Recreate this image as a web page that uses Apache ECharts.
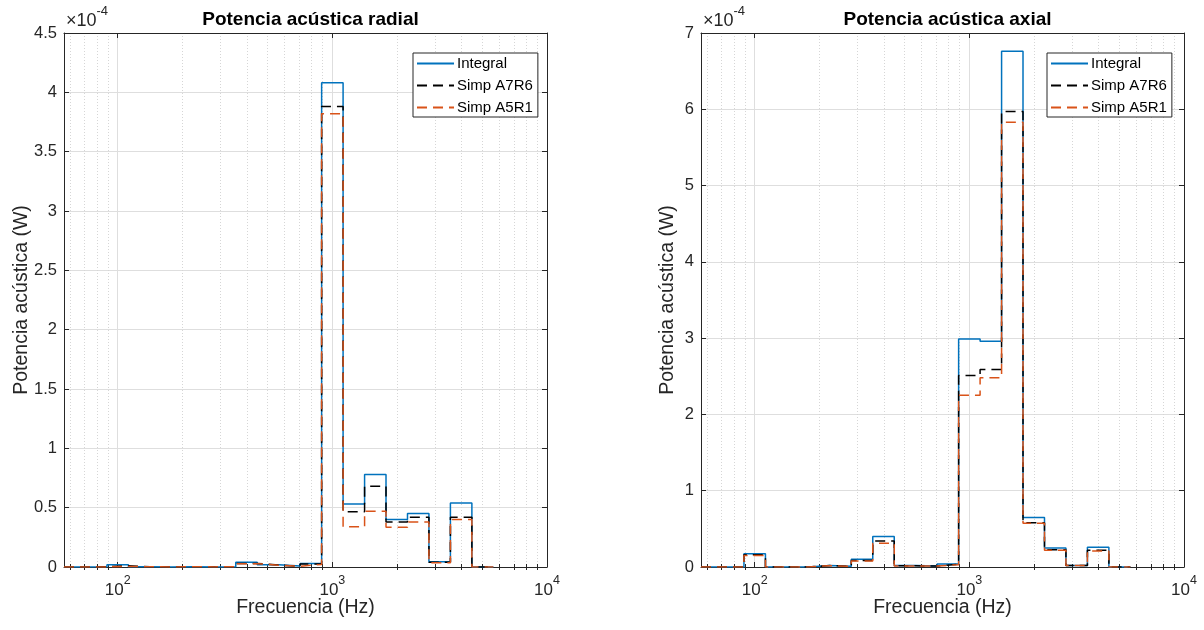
<!DOCTYPE html>
<html>
<head>
<meta charset="utf-8">
<script src="https://cdn.jsdelivr.net/npm/echarts@6/dist/echarts.min.js"></script>
<style>html,body{margin:0;padding:0;background:#fff}#c{width:1204px;height:630px}</style>
</head>
<body>
<div id="c"></div>
<script>
// Third-octave band edges (Hz) and nominal centres
const bandEdges = [56.2, 70.8, 89.1, 112.2, 141.3, 177.8, 223.9, 281.8, 354.8, 446.7, 562.3, 707.9, 891.3, 1122, 1413, 1778, 2239, 2818, 3548, 4467, 5623];
const bandCenters = [63, 80, 100, 125, 160, 200, 250, 315, 400, 500, 630, 800, 1000, 1250, 1600, 2000, 2500, 3150, 4000, 5000];

// Values in units of 1e-4 W
const radialIntegral = [0, 0.002, 0.02, 0.003, 0, 0.002, 0.001, 0.002, 0.04, 0.02, 0.008, 0.03, 4.08, 0.53, 0.78, 0.40, 0.45, 0.045, 0.54, 0];
const radialA7R6     = [0, 0.002, 0.01, 0.003, 0, 0.002, 0.001, 0.002, 0.03, 0.016, 0.007, 0.025, 3.88, 0.465, 0.68, 0.38, 0.42, 0.04, 0.42, 0];
const radialA5R1     = [0, 0.001, 0.005, 0.002, 0, 0.002, 0.001, 0.002, 0.028, 0.014, 0.006, 0.022, 3.82, 0.34, 0.47, 0.335, 0.38, 0.035, 0.40, 0];

const axialIntegral = [0, 0, 0.175, 0, 0, 0.02, 0.01, 0.10, 0.40, 0.02, 0.013, 0.04, 2.99, 2.96, 6.76, 0.65, 0.25, 0.02, 0.26, 0];
const axialA7R6     = [0, 0, 0.16, 0, 0, 0.02, 0.008, 0.085, 0.34, 0.015, 0.012, 0.035, 2.51, 2.59, 5.97, 0.58, 0.225, 0.02, 0.22, 0];
const axialA5R1     = [0, 0, 0.15, 0, 0, 0.018, 0.008, 0.08, 0.31, 0.013, 0.012, 0.03, 2.25, 2.48, 5.83, 0.575, 0.22, 0.02, 0.21, 0];

const seriesNames = ['Integral', 'Simp A7R6', 'Simp A5R1'];
const titles = ['Potencia acústica radial', 'Potencia acústica axial'];
const yMax = [4.5, 7];
const yStep = [0.5, 1];
const xMin = 56.2, xMax = 10000;
const minorTickValues = [60, 70, 80, 90, 200, 300, 400, 500, 600, 700, 800, 900, 2000, 3000, 4000, 5000, 6000, 7000, 8000, 9000];

const FONT = "'Liberation Sans', Arial, Helvetica, sans-serif";
const TXT = '#262626';
const colors = ['#0072BD', '#000000', '#D95319'];
const dashes = ['solid', [10, 6], [10, 6]];

function stairs(vals) {
  const pts = vals.map((v, i) => [bandEdges[i], v]);
  pts.push([bandEdges[vals.length], vals[vals.length - 1]]);
  return pts;
}

const grids = [
  {left: 64, right: 657, top: 33, bottom: 63},
  {left: 701, right: 20, top: 33, bottom: 63}
];

const xAxes = [], yAxes = [], series = [], titleList = [], legends = [], graphics = [];
const data = [[radialIntegral, radialA7R6, radialA5R1], [axialIntegral, axialA7R6, axialA5R1]];
const yNameGap = [32, 23];
const legendLeft = [413, 1047];

grids.forEach((g, gi) => {
  const base = {type: 'log', logBase: 10, gridIndex: gi, min: xMin, max: xMax};
  // main bottom axis
  xAxes.push(Object.assign({}, base, {
    position: 'bottom',
    name: 'Frecuencia (Hz)', nameLocation: 'middle', nameGap: 31, nameMoveOverlap: false,
    nameTextStyle: {fontFamily: FONT, fontSize: 19.5, color: TXT, verticalAlign: 'top'},
    axisLine: {show: true, onZero: false, lineStyle: {color: TXT, width: 1}},
    axisTick: {show: true, inside: true, length: 5, lineStyle: {color: TXT}},
    axisLabel: {
      margin: 7, color: TXT, fontFamily: FONT, fontSize: 17,
      formatter: v => {
        const e = Math.log10(v);
        if (Math.abs(e - Math.round(e)) > 1e-6) return '';
        return '{b|10}{s|' + Math.round(e) + '}';
      },
      rich: {b: {fontFamily: FONT, fontSize: 17, color: TXT, verticalAlign: 'bottom', padding: [8, 0, 0, 0]},
             s: {fontFamily: FONT, fontSize: 12.5, color: TXT, verticalAlign: 'top', padding: [0, 0, 8, 0]}}
    },
    splitLine: {show: true, lineStyle: {color: '#dedede', width: 1}}
  }));
  // minor bottom axis
  xAxes.push(Object.assign({}, base, {
    position: 'bottom',
    axisLine: {show: false},
    axisLabel: {show: false},
    axisTick: {show: true, inside: true, length: 3, customValues: minorTickValues, lineStyle: {color: TXT}},
    splitLine: {show: true, lineStyle: {color: '#d6d6d6', width: 1, type: [1, 2]}}
  }));
  // top major
  xAxes.push(Object.assign({}, base, {
    position: 'top',
    axisLine: {show: true, onZero: false, lineStyle: {color: TXT, width: 1}},
    axisLabel: {show: false},
    axisTick: {show: true, inside: true, length: 5, lineStyle: {color: TXT}},
    splitLine: {show: false}
  }));
  // top minor
  xAxes.push(Object.assign({}, base, {
    position: 'top',
    axisLine: {show: false},
    axisLabel: {show: false},
    axisTick: {show: true, inside: true, length: 3, customValues: minorTickValues, lineStyle: {color: TXT}},
    splitLine: {show: false}
  }));

  yAxes.push({
    type: 'value', gridIndex: gi, position: 'left', min: 0, max: yMax[gi], interval: yStep[gi],
    name: 'Potencia acústica (W)', nameLocation: 'middle', nameGap: yNameGap[gi], nameMoveOverlap: false,
    nameTextStyle: {fontFamily: FONT, fontSize: 19.5, color: TXT},
    axisLine: {show: true, lineStyle: {color: TXT, width: 1}},
    axisTick: {show: true, inside: true, length: 5, lineStyle: {color: TXT}},
    axisLabel: {margin: 7, color: TXT, fontFamily: FONT, fontSize: 16.5},
    splitLine: {show: true, lineStyle: {color: '#dedede', width: 1}}
  });
  yAxes.push({
    type: 'value', gridIndex: gi, position: 'right', min: 0, max: yMax[gi], interval: yStep[gi],
    axisLine: {show: true, lineStyle: {color: TXT, width: 1}},
    axisTick: {show: true, inside: true, length: 5, lineStyle: {color: TXT}},
    axisLabel: {show: false},
    splitLine: {show: false}
  });

  data[gi].forEach((vals, si) => {
    series.push({
      name: seriesNames[si], type: 'line', step: 'end',
      xAxisIndex: gi * 4, yAxisIndex: gi * 2,
      data: stairs(vals), symbol: 'none', showSymbol: false,
      lineStyle: {color: colors[si], width: 1.5, type: dashes[si]},
      itemStyle: {color: colors[si]},
      emphasis: {disabled: true}, animation: false, z: 2 + si
    });
  });

  const cx = g.left + (1204 - g.left - g.right) / 2;
  titleList.push({
    text: titles[gi], left: cx, top: 5, textAlign: 'center',
    textStyle: {fontFamily: FONT, fontSize: 19, fontWeight: 'bold', color: '#000'}
  });

  graphics.push({
    type: 'text', left: g.left + 2, top: 5,
    style: {
      text: '{a|×10}{s|-4}', fill: TXT,
      rich: {a: {fontFamily: FONT, fontSize: 18, fill: TXT, verticalAlign: 'bottom', padding: [7, 0, 0, 0]},
             s: {fontFamily: FONT, fontSize: 13, fill: TXT, verticalAlign: 'top', padding: [0, 0, 7, 0]}}
    }
  });

  legends.push({
    orient: 'vertical', left: legendLeft[gi], top: 53, data: seriesNames,
    itemWidth: 37, itemHeight: 14, itemGap: 7, padding: [3, 5, 2, 3],
    borderColor: TXT, borderWidth: 1, backgroundColor: '#fff',
    itemStyle: {opacity: 0},
    textStyle: {fontFamily: FONT, fontSize: 15, color: '#000', padding: [0, 0, 0, -2]},
    selectedMode: false
  });
});

const chart = echarts.init(document.getElementById('c'), null, {renderer: 'canvas'});
chart.setOption({
  animation: false,
  backgroundColor: '#fff',
  title: titleList,
  legend: legends,
  grid: grids,
  xAxis: xAxes,
  yAxis: yAxes,
  series: series,
  graphic: graphics
});
</script>
</body>
</html>
